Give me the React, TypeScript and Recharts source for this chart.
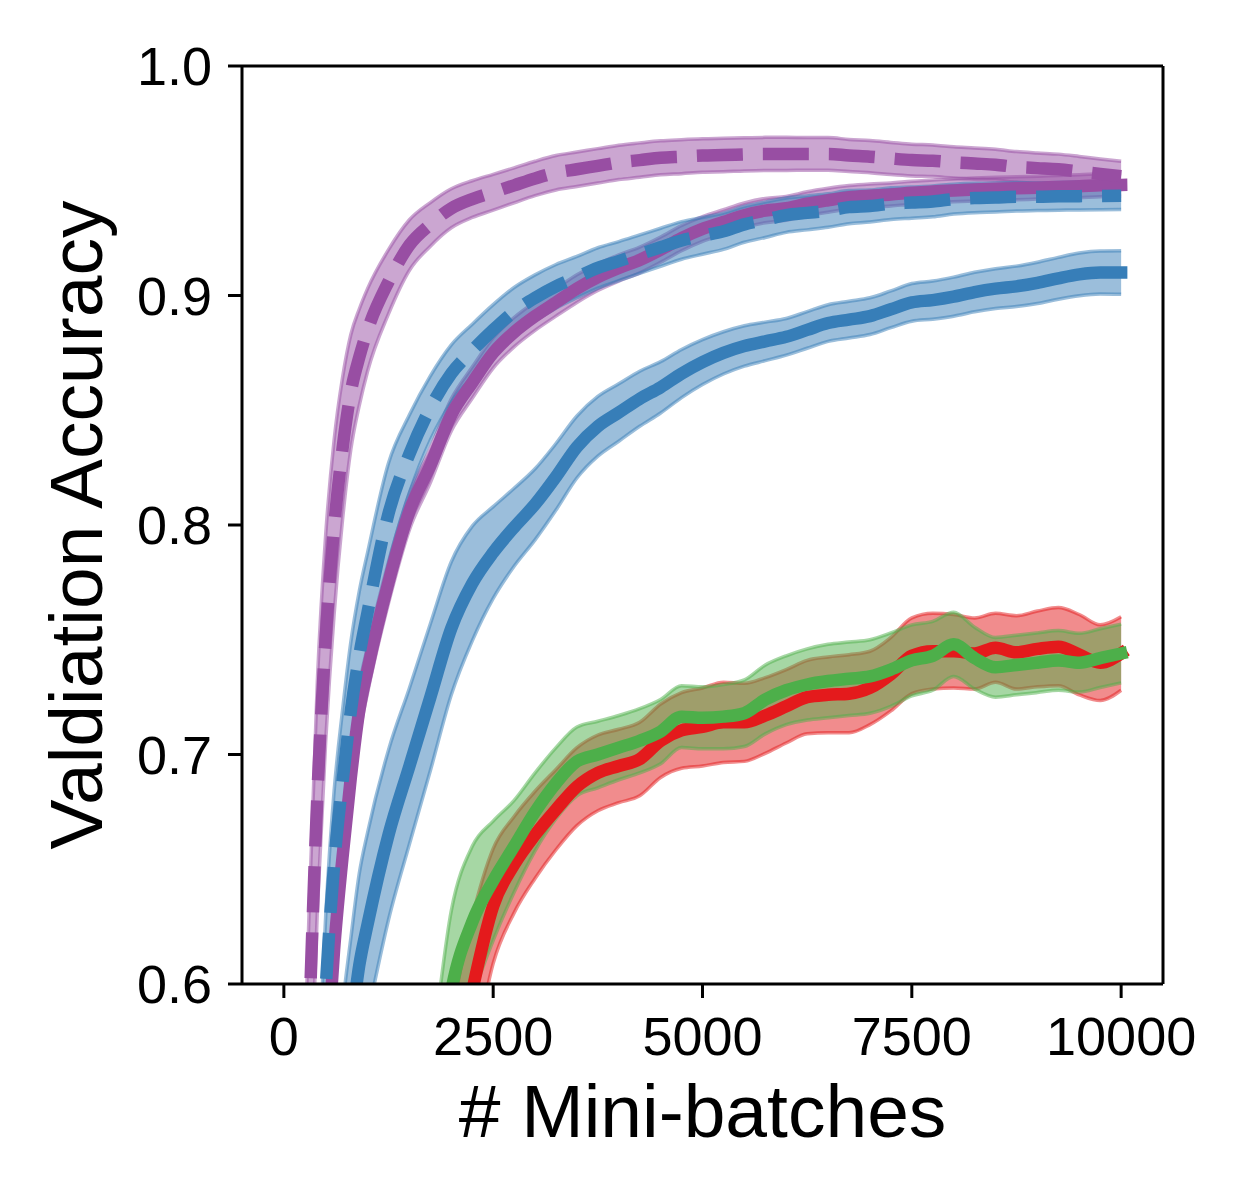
import { Area, ComposedChart, Label, Line, XAxis, YAxis } from "recharts";

const FONT = "'Liberation Sans', Arial, Helvetica, sans-serif";

const PURPLE = "#984ea3";
const BLUE = "#377eb8";
const RED = "#e41a1c";
const GREEN = "#4daf4a";

// mini-batch positions of the samples
export const steps = [
  0, 100, 200, 300, 400, 500, 600, 700, 800, 900, 1000, 1250, 1500, 1750, 2000,
  2250, 2500, 2750, 3000, 3250, 3500, 3750, 4000, 4250, 4500, 4750, 5000, 5250,
  5500, 5750, 6000, 6250, 6500, 6750, 7000, 7250, 7500, 7750, 8000, 8250, 8500,
  8750, 9000, 9250, 9500, 9750, 10000,
];

// purple dashed (top)
export const purpleDashed = [
  0.2, 0.33, 0.46, 0.58, 0.682, 0.751, 0.799, 0.833, 0.858, 0.873, 0.885, 0.906,
  0.922, 0.931, 0.938, 0.942, 0.945, 0.948, 0.951, 0.9535, 0.955, 0.9565, 0.958,
  0.959, 0.96, 0.9605, 0.961, 0.9612, 0.9615, 0.9617, 0.9617, 0.9617, 0.9617,
  0.961, 0.9605, 0.9597, 0.959, 0.9587, 0.958, 0.9575, 0.957, 0.956, 0.9555,
  0.955, 0.954, 0.953, 0.952,
];
export const purpleDashedSd = [
  0.05, 0.05, 0.05, 0.05, 0.05, 0.045, 0.038, 0.031, 0.025, 0.021, 0.018, 0.014,
  0.011, 0.0095, 0.0085, 0.008, 0.0078, 0.0076, 0.0075, 0.0075, 0.0075, 0.0075,
  0.0075, 0.0075, 0.0074, 0.0074, 0.0073, 0.0073, 0.0072, 0.0072, 0.0072,
  0.0071, 0.0071, 0.007, 0.007, 0.007, 0.0069, 0.0069, 0.0068, 0.0068, 0.0067,
  0.0067, 0.0066, 0.0066, 0.0066, 0.0065, 0.0065,
];

// purple solid
export const purpleSolid = [
  0.15, 0.24, 0.33, 0.42, 0.5, 0.56, 0.615, 0.655, 0.69, 0.719, 0.737, 0.775,
  0.806, 0.826, 0.848, 0.862, 0.875, 0.884, 0.891, 0.897, 0.903, 0.908, 0.912,
  0.9155, 0.92, 0.925, 0.929, 0.932, 0.935, 0.937, 0.938, 0.94, 0.9415, 0.9428,
  0.9435, 0.944, 0.9448, 0.9453, 0.9458, 0.9462, 0.9465, 0.9467, 0.947, 0.9473,
  0.9476, 0.948, 0.9482,
];
export const purpleSolidSd = [
  0.014, 0.014, 0.014, 0.014, 0.013, 0.013, 0.012, 0.012, 0.011, 0.011, 0.01,
  0.009, 0.008, 0.0075, 0.007, 0.0068, 0.0066, 0.0064, 0.0062, 0.006, 0.006,
  0.0058, 0.0057, 0.0056, 0.0055, 0.0055, 0.0054, 0.0054, 0.0053, 0.0053,
  0.0052, 0.0052, 0.0052, 0.0051, 0.0051, 0.005, 0.005, 0.005, 0.005, 0.005,
  0.005, 0.005, 0.005, 0.005, 0.005, 0.005, 0.005,
];

// blue dashed
export const blueDashed = [
  0.2, 0.28, 0.36, 0.44, 0.52, 0.598, 0.652, 0.688, 0.719, 0.743, 0.762, 0.805,
  0.831, 0.851, 0.866, 0.876, 0.885, 0.893, 0.899, 0.904, 0.908, 0.912, 0.915,
  0.918, 0.921, 0.924, 0.926, 0.928, 0.931, 0.933, 0.935, 0.936, 0.937, 0.9385,
  0.939, 0.94, 0.9405, 0.941, 0.942, 0.9425, 0.9427, 0.943, 0.943, 0.9432,
  0.9433, 0.9434, 0.9435,
];
export const blueDashedSd = [
  0.032, 0.032, 0.032, 0.032, 0.032, 0.032, 0.032, 0.031, 0.03, 0.028, 0.026,
  0.022, 0.017, 0.014, 0.0125, 0.0115, 0.011, 0.0105, 0.01, 0.0095, 0.009,
  0.0088, 0.0085, 0.0084, 0.0083, 0.0082, 0.008, 0.0079, 0.0078, 0.0077,
  0.0075, 0.0074, 0.0073, 0.0072, 0.007, 0.0069, 0.0068, 0.0067, 0.0065,
  0.0064, 0.0063, 0.0062, 0.006, 0.006, 0.006, 0.006, 0.006,
];

// blue solid
export const blueSolid = [
  0.15, 0.22, 0.29, 0.35, 0.41, 0.46, 0.51, 0.55, 0.58, 0.608, 0.626, 0.665,
  0.695, 0.725, 0.755, 0.7745, 0.788, 0.799, 0.809, 0.821, 0.834, 0.843, 0.849,
  0.855, 0.86, 0.866, 0.871, 0.875, 0.878, 0.88, 0.882, 0.885, 0.888, 0.8895,
  0.891, 0.894, 0.897, 0.898, 0.8995, 0.9015, 0.903, 0.904, 0.9055, 0.9075,
  0.9092, 0.91, 0.91,
];
export const blueSolidSd = [
  0.04, 0.04, 0.04, 0.04, 0.04, 0.04, 0.04, 0.04, 0.04, 0.04, 0.04, 0.037,
  0.034, 0.032, 0.029, 0.025, 0.02, 0.017, 0.0155, 0.0145, 0.0135, 0.013,
  0.0125, 0.012, 0.0112, 0.0105, 0.0098, 0.0092, 0.0088, 0.0084, 0.008, 0.008,
  0.008, 0.008, 0.008, 0.008, 0.0082, 0.0083, 0.0085, 0.0086, 0.0087, 0.0088,
  0.009, 0.0091, 0.0093, 0.0094, 0.0095,
];

// red solid
export const redSolid = [
  0.11, 0.13, 0.16, 0.18, 0.2, 0.23, 0.25, 0.27, 0.3, 0.32, 0.34, 0.39, 0.44,
  0.49, 0.55, 0.597, 0.634, 0.652, 0.665, 0.676, 0.686, 0.692, 0.695, 0.698,
  0.706, 0.7105, 0.712, 0.714, 0.714, 0.717, 0.721, 0.725, 0.726, 0.7265,
  0.729, 0.735, 0.743, 0.745, 0.745, 0.744, 0.7465, 0.7445, 0.746, 0.747,
  0.7435, 0.74, 0.744,
];
export const redSolidSd = [
  0.035, 0.035, 0.035, 0.035, 0.035, 0.035, 0.035, 0.035, 0.035, 0.035, 0.035,
  0.035, 0.035, 0.035, 0.035, 0.032, 0.025, 0.021, 0.019, 0.0175, 0.017,
  0.0165, 0.016, 0.016, 0.016, 0.0165, 0.017, 0.0175, 0.017, 0.0165, 0.016,
  0.016, 0.0165, 0.017, 0.016, 0.016, 0.0165, 0.0165, 0.016, 0.0155, 0.015,
  0.016, 0.0165, 0.017, 0.0175, 0.0165, 0.016,
];

// green solid
export const greenSolid = [
  0.12, 0.14, 0.17, 0.19, 0.21, 0.24, 0.26, 0.29, 0.31, 0.33, 0.36, 0.41, 0.47,
  0.53, 0.597, 0.627, 0.645, 0.66, 0.675, 0.6875, 0.697, 0.7, 0.703, 0.706,
  0.71, 0.7165, 0.716, 0.7165, 0.718, 0.724, 0.728, 0.7305, 0.732, 0.733,
  0.734, 0.737, 0.741, 0.743, 0.748, 0.742, 0.738, 0.739, 0.74, 0.741, 0.74,
  0.742, 0.744,
];
export const greenSolidSd = [
  0.035, 0.035, 0.035, 0.035, 0.035, 0.035, 0.035, 0.035, 0.035, 0.035, 0.035,
  0.035, 0.035, 0.035, 0.035, 0.033, 0.026, 0.02, 0.017, 0.0155, 0.015,
  0.0145, 0.014, 0.014, 0.014, 0.0135, 0.0135, 0.014, 0.0145, 0.015, 0.015,
  0.0155, 0.016, 0.016, 0.016, 0.016, 0.0155, 0.015, 0.014, 0.0135, 0.013,
  0.013, 0.013, 0.013, 0.0128, 0.0128, 0.0128,
];

export const xTicks = [0, 2500, 5000, 7500, 10000];
export const yTicks = [0.6, 0.7, 0.8, 0.9, 1.0];

const series = [
  { key: "ps", mean: purpleSolid, sd: purpleSolidSd, color: PURPLE, dashed: false },
  { key: "pd", mean: purpleDashed, sd: purpleDashedSd, color: PURPLE, dashed: true },
  { key: "bs", mean: blueSolid, sd: blueSolidSd, color: BLUE, dashed: false },
  { key: "bd", mean: blueDashed, sd: blueDashedSd, color: BLUE, dashed: true },
  { key: "red", mean: redSolid, sd: redSolidSd, color: RED, dashed: false },
  { key: "green", mean: greenSolid, sd: greenSolidSd, color: GREEN, dashed: false },
];

const chartData = steps.map((x, i) => {
  const row: Record<string, number | number[]> = { x };
  series.forEach((s) => {
    row[s.key] = s.mean[i];
    row[s.key + "Band"] = [s.mean[i] - s.sd[i], s.mean[i] + s.sd[i]];
  });
  return row;
});

const tickStyle = { fontSize: 54, fill: "#000", fontFamily: FONT };
const frame = { stroke: "#000", strokeWidth: 3 };

const XLabel = () => (
  <text x={694.5} y={1129} textAnchor="middle" fontSize={75} fontFamily={FONT} fill="#000">
    # Mini-batches
  </text>
);

const YLabel = () => (
  <text
    x={94}
    y={517}
    transform="rotate(-90 94 517)"
    textAnchor="middle"
    fontSize={75}
    fontFamily={FONT}
    fill="#000"
  >
    Valdiation Accuracy
  </text>
);

export default function App() {
  return (
    <div style={{ fontFamily: FONT }}>
      <ComposedChart
        width={1230}
        height={1180}
        data={chartData}
        margin={{ top: 57, right: 74, bottom: 24, left: 0 }}
      >
        <XAxis
          dataKey="x"
          type="number"
          domain={[-500, 10500]}
          ticks={xTicks}
          allowDataOverflow
          height={180}
          tickSize={14}
          tickMargin={19}
          tick={tickStyle}
          tickLine={frame}
          axisLine={frame}
          label={<Label content={XLabel} />}
        />
        <XAxis
          xAxisId="top"
          orientation="top"
          dataKey="x"
          type="number"
          domain={[-500, 10500]}
          allowDataOverflow
          height={1}
          tick={false}
          tickLine={false}
          axisLine={frame}
        />
        <YAxis
          type="number"
          domain={[0.6, 1.0]}
          ticks={yTicks}
          allowDataOverflow
          width={234}
          tickSize={14}
          tickMargin={16}
          tick={tickStyle}
          tickLine={frame}
          axisLine={frame}
          tickFormatter={(v: number) => v.toFixed(1)}
          label={<Label content={YLabel} />}
        />
        <YAxis
          yAxisId="right"
          orientation="right"
          type="number"
          domain={[0.6, 1.0]}
          allowDataOverflow
          width={1}
          tick={false}
          tickLine={false}
          axisLine={frame}
        />
        {series.map((s) => (
          <Area
            key={s.key + "Band"}
            dataKey={s.key + "Band"}
            type="monotone"
            fill={s.color}
            fillOpacity={0.5}
            stroke={s.color}
            strokeOpacity={0.5}
            strokeWidth={3.5}
            dot={false}
            activeDot={false}
            isAnimationActive={false}
          />
        ))}
        {series.map((s) => (
          <Line
            key={s.key}
            dataKey={s.key}
            type="monotone"
            stroke={s.color}
            strokeWidth={12.5}
            strokeDasharray={s.dashed ? "46 20" : undefined}
            strokeLinecap={s.dashed ? "butt" : "square"}
            strokeLinejoin="round"
            dot={false}
            activeDot={false}
            isAnimationActive={false}
          />
        ))}
      </ComposedChart>
    </div>
  );
}
